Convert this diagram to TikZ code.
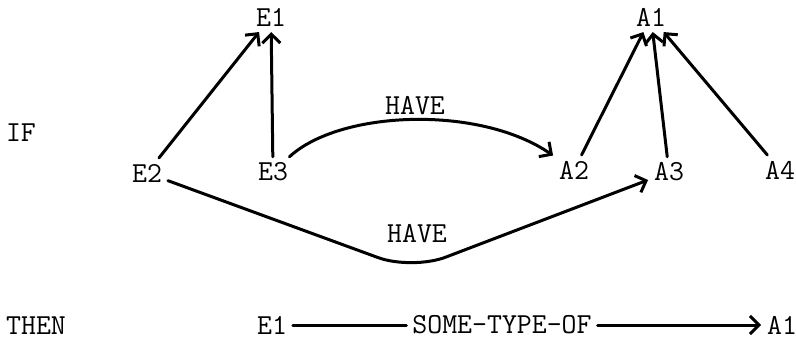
\documentclass[tikz,border=0pt]{standalone}
\usetikzlibrary{arrows.meta}
\begin{document}
\begin{tikzpicture}[x=0.5pt,y=-0.5pt,
  lbl/.style={font=\ttfamily\fontsize{14.5}{17}\selectfont, inner sep=2pt, outer sep=1pt},
  conn/.style={line width=1.5pt, line cap=round},
  arr/.style={conn, -{Straight Barb[length=4.5pt,width=9pt]}}]
\useasboundingbox (0,0) rectangle (796,344);
% IF part
\node[lbl] (IF) at (21,133) {IF};
\node[lbl] (E1) at (271,17) {E1};
\node[lbl] (A1) at (651,17) {A1};
\node[lbl] (E2) at (147,173) {E2};
\node[lbl] (E3) at (273,172) {E3};
\node[lbl] (A2) at (574,170) {A2};
\node[lbl] (A3) at (669,172) {A3};
\node[lbl] (A4) at (780,170) {A4};
\node[lbl] (H1) at (415,106) {HAVE};
\node[lbl] (H2) at (417,234) {HAVE};
% THEN part
\node[lbl] (THEN) at (36,326) {THEN};
\node[lbl] (E1b) at (272,325) {E1};
\node[lbl] (ST) at (502,325) {SOME-TYPE-OF};
\node[lbl] (A1b) at (782,325) {A1};
% connectors
\draw[arr] (E2) -- (E1);
\draw[arr] (E3) -- (E1);
\draw[arr] (A2) -- (A1);
\draw[arr] (A3) -- (A1);
\draw[arr] (A4) -- (A1);
\draw[arr] (E3) .. controls (340,110) and (480,105) .. (A2);
\coordinate (bend) at (412,270);
\draw[arr, rounded corners=18pt] (E2) -- (bend) -- (A3);
\draw[conn] (E1b) -- (ST);
\draw[arr] (ST) -- (A1b);
\end{tikzpicture}
\end{document}
